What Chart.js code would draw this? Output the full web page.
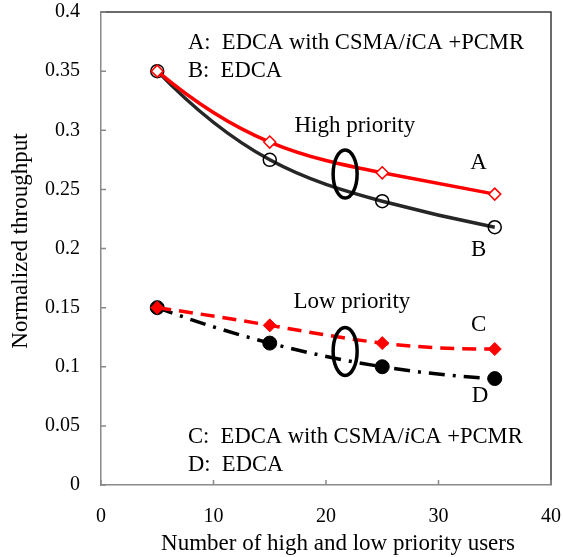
<!DOCTYPE html>
<html>
<head>
<meta charset="utf-8">
<script src="https://cdn.jsdelivr.net/npm/chart.js@4.4.1/dist/chart.umd.min.js"></script>
<style>
  html, body { margin: 0; padding: 0; background: #fff; }
  #wrap { width: 563px; height: 557px; }
</style>
</head>
<body>
<div id="wrap"><canvas id="throughput" width="563" height="557"></canvas></div>
<script>
// number of users on the x axis
const users = [5, 15, 25, 35];

// high priority
const edcaPcmrHigh = [0.35, 0.29, 0.264, 0.246];   // A
const edcaHigh = [0.35, 0.275, 0.24, 0.218];       // B
// low priority
const edcaPcmrLow = [0.15, 0.135, 0.12, 0.115];    // C
const edcaLow = [0.15, 0.12, 0.1, 0.09];           // D

const xTicks = [0, 10, 20, 30, 40];
const yTicks = [0, 0.05, 0.1, 0.15, 0.2, 0.25, 0.3, 0.35, 0.4];

const FONT = "'Liberation Serif', 'Times New Roman', serif";
const TEXT_FONT = '23px ' + FONT;
const LEGEND_FONT = '22.6px ' + FONT;

function points(ys) {
  return users.map((x, i) => ({ x: x, y: ys[i] }));
}

// text drawn on the plot, placed in data units
const notes = [
  { text: 'High priority', x: 22.56, y: 0.304 },
  { text: 'Low priority', x: 22.3, y: 0.155 },
  { text: 'A', x: 33.57, y: 0.272 },
  { text: 'B', x: 33.57, y: 0.199 },
  { text: 'C', x: 33.57, y: 0.135 },
  { text: 'D', x: 33.7, y: 0.075 }
];

const legendLines = [
  { y: 0.3738, parts: [['A:  EDCA with CSMA/', ''], ['i', 'italic '], ['CA +PCMR', '']] },
  { y: 0.3497, parts: [['B:  EDCA', '']] },
  { y: 0.0408, parts: [['C:  EDCA with CSMA/', ''], ['i', 'italic '], ['CA +PCMR', '']] },
  { y: 0.0169, parts: [['D:  EDCA', '']] }
];

const ellipses = [
  { x: 21.7, y: 0.263 },
  { x: 21.7, y: 0.113 }
];

// cubic spline slopes through the drawn points (pixel space),
// parabolic run-out at both ends so the curves keep their bend
function splineSlopes(px, py) {
  const n = px.length;
  const h = [];
  for (let i = 0; i < n - 1; i++) h.push(px[i + 1] - px[i]);
  const m = new Array(n).fill(0);
  if (n > 2) {
    const a = [], b = [], c = [], d = [];
    for (let i = 1; i < n - 1; i++) {
      a.push(h[i - 1]);
      b.push(2 * (h[i - 1] + h[i]));
      c.push(h[i]);
      d.push(6 * ((py[i + 1] - py[i]) / h[i] - (py[i] - py[i - 1]) / h[i - 1]));
    }
    const k = b.length;
    b[0] += h[0];
    b[k - 1] += h[n - 2];
    for (let i = 1; i < k; i++) {
      const w = a[i] / b[i - 1];
      b[i] -= w * c[i - 1];
      d[i] -= w * d[i - 1];
    }
    const sol = new Array(k);
    sol[k - 1] = d[k - 1] / b[k - 1];
    for (let i = k - 2; i >= 0; i--) sol[i] = (d[i] - c[i] * sol[i + 1]) / b[i];
    for (let i = 0; i < k; i++) m[i + 1] = sol[i];
    m[0] = m[1];
    m[n - 1] = m[n - 2];
  }
  const s = [];
  for (let i = 0; i < n - 1; i++) {
    s.push((py[i + 1] - py[i]) / h[i] - h[i] * (2 * m[i] + m[i + 1]) / 6);
  }
  const j = n - 2;
  s.push((py[j + 1] - py[j]) / h[j] + h[j] * (m[j] + 2 * m[j + 1]) / 6);
  return s;
}

const smoothCurves = {
  id: 'smoothCurves',
  beforeDatasetDraw(chart, args) {
    const meta = args.meta;
    const line = meta.dataset;
    if (!line) return;
    line.updateControlPoints(chart.chartArea, 'x');
    const pts = meta.data;
    const px = pts.map(p => p.x);
    const py = pts.map(p => p.y);
    const s = splineSlopes(px, py);
    pts.forEach((p, i) => {
      const hl = i > 0 ? (px[i] - px[i - 1]) / 3 : 0;
      const hr = i < pts.length - 1 ? (px[i + 1] - px[i]) / 3 : 0;
      p.cp1x = p.x - hl;
      p.cp1y = p.y - hl * s[i];
      p.cp2x = p.x + hr;
      p.cp2y = p.y + hr * s[i];
    });
    line._path = undefined;
  }
};

const decorations = {
  id: 'decorations',
  afterDatasetsDraw(chart) {
    const ctx = chart.ctx;
    const xs = chart.scales.x;
    const ys = chart.scales.y;
    const a = chart.chartArea;

    ctx.save();
    // plot box: top and right edges
    ctx.strokeStyle = '#3a3a3a';
    ctx.lineWidth = 1.5;
    ctx.beginPath();
    ctx.moveTo(a.left, a.top);
    ctx.lineTo(a.right, a.top);
    ctx.lineTo(a.right, a.bottom);
    ctx.stroke();

    // inward tick marks
    ctx.strokeStyle = '#898989';
    ctx.lineWidth = 1.5;
    ctx.beginPath();
    yTicks.forEach(v => {
      const py = ys.getPixelForValue(v);
      ctx.moveTo(a.left, py);
      ctx.lineTo(a.left + 5, py);
    });
    xTicks.forEach(v => {
      const px = xs.getPixelForValue(v);
      ctx.moveTo(px, a.bottom);
      ctx.lineTo(px, a.bottom - 5);
    });
    ctx.stroke();

    // grouping ellipses
    ctx.strokeStyle = '#000';
    ctx.lineWidth = 3.5;
    ellipses.forEach(e => {
      ctx.beginPath();
      ctx.ellipse(xs.getPixelForValue(e.x), ys.getPixelForValue(e.y), 12, 24, 0, 0, Math.PI * 2);
      ctx.stroke();
    });

    // labels
    ctx.fillStyle = '#000';
    ctx.textBaseline = 'middle';
    ctx.font = TEXT_FONT;
    ctx.textAlign = 'center';
    notes.forEach(n => {
      ctx.fillText(n.text, xs.getPixelForValue(n.x), ys.getPixelForValue(n.y));
    });

    ctx.textAlign = 'left';
    legendLines.forEach(l => {
      let px = xs.getPixelForValue(7.73);
      const py = ys.getPixelForValue(l.y);
      l.parts.forEach(([t, style]) => {
        ctx.font = style + LEGEND_FONT;
        ctx.fillText(t, px, py);
        px += ctx.measureText(t).width;
      });
    });

    // axis titles
    ctx.font = TEXT_FONT;
    ctx.textAlign = 'center';
    ctx.fillText('Number of high and low priority users', 338, 544);
    ctx.translate(21, 241);
    ctx.rotate(-Math.PI / 2);
    ctx.fillText('Normalized throughput', 0, 0);
    ctx.restore();
  }
};

new Chart(document.getElementById('throughput'), {
  type: 'line',
  data: {
    datasets: [
      {
        label: 'A',
        data: points(edcaPcmrHigh),
        borderColor: '#ff0000',
        borderWidth: 3.5,
        pointStyle: 'rectRot',
        pointRadius: 6,
        pointBorderWidth: 1.5,
        pointBorderColor: '#ff0000',
        pointBackgroundColor: '#ffffff',
        tension: 0.4
      },
      {
        label: 'B',
        data: points(edcaHigh),
        borderColor: '#262626',
        borderWidth: 3.5,
        pointStyle: 'circle',
        pointRadius: 6.5,
        pointBorderWidth: 1.5,
        pointBorderColor: '#000000',
        pointBackgroundColor: 'rgba(0,0,0,0)',
        tension: 0.4
      },
      {
        label: 'C',
        data: points(edcaPcmrLow),
        borderColor: '#ff0000',
        borderWidth: 3.5,
        borderDash: [14, 8],
        pointStyle: 'rectRot',
        pointRadius: 6.5,
        pointBorderWidth: 1,
        pointBorderColor: '#ff0000',
        pointBackgroundColor: '#ff0000',
        tension: 0.4
      },
      {
        label: 'D',
        data: points(edcaLow),
        borderColor: '#000000',
        borderWidth: 3.5,
        borderDash: [16, 8, 3, 8],
        pointStyle: 'circle',
        pointRadius: 7,
        pointBorderWidth: 1,
        pointBorderColor: '#000000',
        pointBackgroundColor: '#000000',
        tension: 0.4
      }
    ]
  },
  plugins: [smoothCurves, decorations],
  options: {
    responsive: false,
    animation: false,
    devicePixelRatio: 1,
    layout: { padding: { top: 12, right: 12, left: 0, bottom: 0 } },
    plugins: {
      legend: { display: false },
      tooltip: { enabled: false }
    },
    scales: {
      x: {
        type: 'linear',
        min: 0,
        max: 40,
        afterFit(scale) {
          scale.height = 72;
          scale.paddingLeft = 0;
          scale.paddingRight = 0;
        },
        afterBuildTicks(scale) { scale.ticks = xTicks.map(v => ({ value: v })); },
        grid: { display: false, drawTicks: false },
        border: { display: true, color: '#898989', width: 1.5 },
        ticks: {
          color: '#000',
          padding: 20,
          maxRotation: 0,
          autoSkip: false,
          font: { family: FONT, size: 20 }
        }
      },
      y: {
        min: 0,
        max: 0.4,
        afterFit(scale) {
          scale.width = 101;
          scale.paddingTop = 0;
          scale.paddingBottom = 0;
        },
        afterBuildTicks(scale) { scale.ticks = yTicks.map(v => ({ value: v })); },
        grid: { display: false, drawTicks: false },
        border: { display: true, color: '#898989', width: 1.5 },
        ticks: {
          color: '#000',
          padding: 21,
          autoSkip: false,
          font: { family: FONT, size: 20 },
          callback: v => String(Number(v.toFixed(2)))
        }
      }
    }
  }
});
</script>
</body>
</html>
